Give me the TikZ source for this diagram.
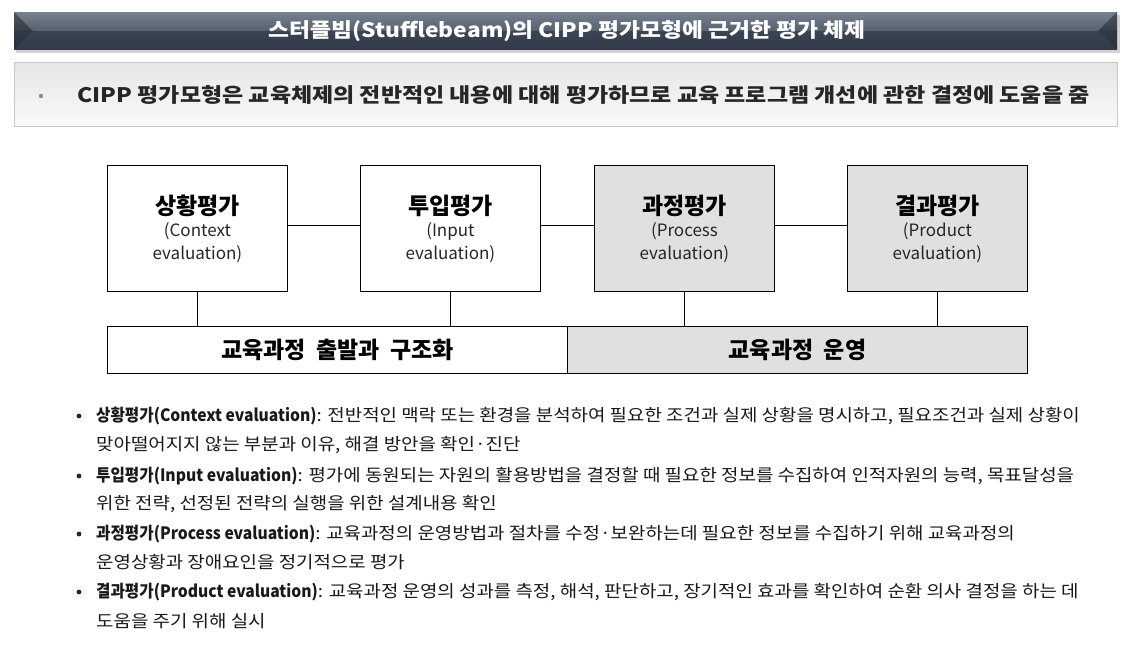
\documentclass[tikz,border=0pt]{standalone}
\usepackage{fontspec}
\usepackage{graphicx}
\setmainfont{Noto Sans CJK KR}
\usetikzlibrary{calc}
\definecolor{barTop}{HTML}{76808F}
\definecolor{barMid}{HTML}{56606F}
\definecolor{barLow}{HTML}{3A4453}
\definecolor{barBot}{HTML}{313A48}
\definecolor{boxGray}{HTML}{E0E0E0}
\definecolor{lineGray}{HTML}{C8C8C8}
\newcommand{\bhead}[1]{\scalebox{0.92}[1]{\bfseries #1}}
\newcommand{\btext}[1]{\scalebox{1.113}[1]{#1}}
\tikzset{
  stagebox/.style={draw=black, line width=0.9pt, minimum width=180pt, minimum height=126pt, anchor=north west, inner sep=0pt},
  phasebar/.style={draw=black, line width=0.9pt, minimum width=460pt, minimum height=47pt, anchor=north west, inner sep=0pt},
  link/.style={draw=black, line width=0.9pt},
  bul/.style={anchor=west, inner sep=0pt, font=\fontsize{17}{19}\selectfont, text=black!90},
}
\begin{document}
\begin{tikzpicture}[x=1pt,y=-1pt]
\useasboundingbox (0,0) rectangle (1140,654);
% title bar
\fill[black!35, opacity=0.5] (16,15) rectangle (1120,53);
\shade[top color=barTop, bottom color=barMid] (14,12) rectangle (1117,31);
\shade[top color=barLow, bottom color=barBot] (14,31) rectangle (1117,49);
\fill[black, opacity=0.35] (14,12) -- (33,31) -- (14,31) -- cycle;
\fill[black, opacity=0.15] (14,31) -- (33,31) -- (14,49) -- cycle;
\fill[black, opacity=0.35] (1117,12) -- (1098,31) -- (1117,31) -- cycle;
\fill[black, opacity=0.15] (1117,31) -- (1098,31) -- (1117,49) -- cycle;
\node[text=white, font=\fontsize{20}{22}\selectfont\bfseries] (title) at (567,31) {\scalebox{1.138}[1]{스터플빔(Stufflebeam)의 CIPP 평가모형에 근거한 평가 체제}};
% summary box
\shade[top color=black!10, bottom color=black!2, draw=lineGray, line width=1pt] (14,62) rectangle (1117,126);
\fill[black!45] (41,96) circle (2.2pt);
\node[anchor=west, font=\fontsize{20}{22}\selectfont\bfseries, text=black!85] (summary) at (74,95) {\scalebox{1.15}[1]{CIPP 평가모형은 교육체제의 전반적인 내용에 대해 평가하므로 교육 프로그램 개선에 관한 결정에 도움을 줌}};
% stage boxes
\node[stagebox, fill=white] (ctx) at (107,165) {};
\node[stagebox, fill=white] (inp) at (360,165) {};
\node[stagebox, fill=boxGray] (proc) at (594,165) {};
\node[stagebox, fill=boxGray] (prod) at (847,165) {};
\foreach \n/\k/\e in {ctx/상황평가/Context, inp/투입평가/Input, proc/과정평가/Process, prod/결과평가/Product}{
  \node[font=\fontsize{23}{25}\selectfont\bfseries] at ($(\n.north)+(0,41)$) {\k};
  \node[font=\fontsize{17}{19}\selectfont, text=black!85] at ($(\n.north)+(0,66)$) {(\e};
  \node[font=\fontsize{17}{19}\selectfont, text=black!85] at ($(\n.north)+(0,89)$) {evaluation)};
}
% bars
\node[phasebar, fill=white] (start) at (107,326) {};
\node[phasebar, fill=boxGray] (oper) at (567,326) {};
\node[font=\fontsize{23}{25}\selectfont\bfseries] at (start.center) {교육과정\ \ 출발과\ \ 구조화};
\node[font=\fontsize{23}{25}\selectfont\bfseries] at (oper.center) {교육과정\ \ 운영};
% connectors
\draw[link] (ctx.east |- 0,225) -- (inp.west |- 0,225);
\draw[link] (inp.east |- 0,225) -- (proc.west |- 0,225);
\draw[link] (proc.east |- 0,225) -- (prod.west |- 0,225);
\draw[link] (ctx.south) -- (ctx.south |- start.north);
\draw[link] (inp.south) -- (inp.south |- start.north);
\draw[link] (proc.south) -- (proc.south |- oper.north);
\draw[link] (prod.south) -- (prod.south |- oper.north);
% bullet list
\foreach \yy in {416,476,534,592}{ \fill[black!85] (79,\yy) circle (2.4pt); }
\node[bul] (b1) at (96,416) {\bhead{상황평가(Context evaluation)}\btext{: 전반적인 맥락 또는 환경을 분석하여 필요한 조건과 실제 상황을 명시하고, 필요조건과 실제 상황이}};
\node[bul] (b1b) at (96,445) {\btext{맞아떨어지지 않는 부분과 이유, 해결 방안을 확인·진단}};
\node[bul] (b2) at (96,476) {\bhead{투입평가(Input evaluation)}\btext{: 평가에 동원되는 자원의 활용방법을 결정할 때 필요한 정보를 수집하여 인적자원의 능력, 목표달성을}};
\node[bul] (b2b) at (96,504) {\btext{위한 전략, 선정된 전략의 실행을 위한 설계내용 확인}};
\node[bul] (b3) at (96,534) {\bhead{과정평가(Process evaluation)}\btext{: 교육과정의 운영방법과 절차를 수정·보완하는데 필요한 정보를 수집하기 위해 교육과정의}};
\node[bul] (b3b) at (96,562) {\btext{운영상황과 장애요인을 정기적으로 평가}};
\node[bul] (b4) at (96,592) {\bhead{결과평가(Product evaluation)}\btext{: 교육과정 운영의 성과를 측정, 해석, 판단하고, 장기적인 효과를 확인하여 순환 의사 결정을 하는 데}};
\node[bul] (b4b) at (96,621) {\btext{도움을 주기 위해 실시}};
\end{tikzpicture}
\end{document}
